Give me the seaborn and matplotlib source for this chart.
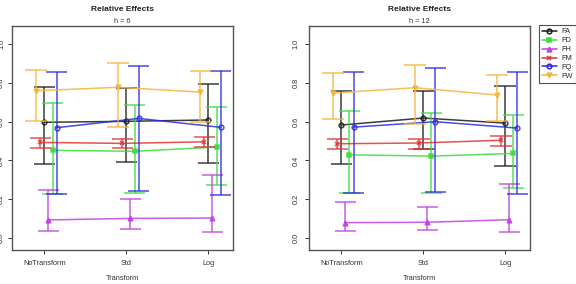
import numpy as np
import pandas as pd
import matplotlib
matplotlib.use("Agg")
import matplotlib.pyplot as plt
from matplotlib.lines import Line2D
import seaborn as sns

# ---- data ----
transforms = ["NoTransform", "Std", "Log"]
series = ["FA", "FD", "FH", "FM", "FQ", "FW"]

# h = 6
h6_mean = {"FA": [0.597, 0.602, 0.609], "FD": [0.452, 0.447, 0.469],
           "FH": [0.092, 0.100, 0.102], "FM": [0.493, 0.488, 0.496],
           "FQ": [0.569, 0.617, 0.571], "FW": [0.760, 0.778, 0.753]}
h6_lower = {"FA": [0.383, 0.393, 0.385], "FD": [0.228, 0.230, 0.274],
            "FH": [0.033, 0.047, 0.030], "FM": [0.465, 0.462, 0.469],
            "FQ": [0.224, 0.240, 0.219], "FW": [0.602, 0.574, 0.598]}
h6_upper = {"FA": [0.778, 0.774, 0.793], "FD": [0.696, 0.688, 0.674],
            "FH": [0.245, 0.202, 0.323], "FM": [0.514, 0.509, 0.519],
            "FQ": [0.858, 0.888, 0.863], "FW": [0.866, 0.902, 0.862]}

# h = 12
h12_mean = {"FA": [0.583, 0.619, 0.593], "FD": [0.429, 0.422, 0.436],
            "FH": [0.078, 0.080, 0.093], "FM": [0.486, 0.490, 0.504],
            "FQ": [0.572, 0.600, 0.567], "FW": [0.748, 0.776, 0.738]}
h12_lower = {"FA": [0.380, 0.459, 0.372], "FD": [0.233, 0.230, 0.255],
             "FH": [0.033, 0.038, 0.030], "FM": [0.460, 0.459, 0.476],
             "FQ": [0.231, 0.238, 0.228], "FW": [0.614, 0.586, 0.602]}
h12_upper = {"FA": [0.759, 0.759, 0.783], "FD": [0.654, 0.643, 0.634],
             "FH": [0.183, 0.160, 0.279], "FM": [0.512, 0.512, 0.527],
             "FQ": [0.857, 0.879, 0.855], "FW": [0.852, 0.891, 0.843]}

# ---- styling ----
colors = {"FA": "#1a1a1a", "FD": "#3ddc3d", "FH": "#c040e0", "FM": "#e23232",
          "FQ": "#2a2ae0", "FW": "#f5b43a"}
markers = {"FA": "o", "FD": "s", "FH": "^", "FM": "x", "FQ": "o", "FW": "v"}
hollow = {"FA": True, "FD": False, "FH": False, "FM": False, "FQ": True, "FW": False}
offsets = {"FA": 0.0, "FD": 0.10, "FH": 0.05, "FM": -0.05, "FQ": 0.15, "FW": -0.10}
cap = 0.13

sns.set_style("white")
plt.rcParams["font.family"] = ["Liberation Sans", "DejaVu Sans"]

fig = plt.figure(figsize=(5.76, 2.84), dpi=100)
ax1 = fig.add_axes([12 / 576, 1 - 250.3 / 284, 221 / 576, 224.3 / 284])
ax2 = fig.add_axes([309 / 576, 1 - 250.3 / 284, 220.7 / 576, 224.3 / 284])

def panel(ax, mean, lower, upper, sub, ypad):
    for s in series:
        x = np.arange(1, 4) + offsets[s]
        df = pd.DataFrame({"x": x, "y": mean[s]})
        c = colors[s]
        sns.lineplot(data=df, x="x", y="y", ax=ax, color=c, lw=1.1, alpha=0.85,
                     marker=markers[s], markersize=3.4,
                     markerfacecolor="none" if hollow[s] else c,
                     markeredgecolor=c, markeredgewidth=1.1, legend=False)
        ax.vlines(x, lower[s], upper[s], color=c, lw=1.1, alpha=0.85)
        ax.hlines(lower[s], x - cap, x + cap, color=c, lw=1.1, alpha=0.85)
        ax.hlines(upper[s], x - cap, x + cap, color=c, lw=1.1, alpha=0.85)

    ax.set_xlim(0.606, 3.30)
    ax.set_ylim(-0.065, 1.095)
    ax.set_xticks([1, 2, 3])
    ax.set_xticklabels(transforms)
    ax.set_yticks([0.0, 0.2, 0.4, 0.6, 0.8, 1.0])
    ax.set_yticklabels(["0.0", "0.2", "0.4", "0.6", "0.8", "1.0"],
                       rotation=90, va="center")
    ax.tick_params(axis="both", labelsize=5.3, length=3, width=0.7,
                   color="#333333", labelcolor="#333333", direction="out",
                   left=True, bottom=True, pad=4)
    ax.tick_params(axis="y", pad=ypad)
    for sp in ax.spines.values():
        sp.set_color("#555555")
        sp.set_linewidth(1.0)
    ax.set_xlabel("Transform", fontsize=5.3, color="#333333", labelpad=6)
    ax.set_ylabel("")
    ax.text(0.5, 1.006, sub, transform=ax.transAxes, ha="center", va="bottom",
            fontsize=5.3, color="#333333")
    ax.text(0.5, 1.058, "Relative Effects", transform=ax.transAxes,
            ha="center", va="bottom", fontsize=6, fontweight="bold",
            color="#222222")

panel(ax1, h6_mean, h6_lower, h6_upper, "h = 6", 2)
panel(ax2, h12_mean, h12_lower, h12_upper, "h = 12", 4)

handles = [Line2D([0], [0], color=colors[s], lw=1.1, marker=markers[s],
                  markersize=3.4, markeredgewidth=1.1,
                  markerfacecolor="none" if hollow[s] else colors[s],
                  markeredgecolor=colors[s]) for s in series]
leg = fig.legend(handles, series, loc="upper left",
                 bbox_to_anchor=(539 / 576, 1 - 25 / 284),
                 fontsize=5.3, frameon=True, fancybox=False,
                 handlelength=2.0, handletextpad=0.6, borderpad=0.4,
                 labelspacing=0.25, borderaxespad=0)
leg.get_frame().set_edgecolor("#222222")
leg.get_frame().set_linewidth(0.8)

fig.savefig("out.png", dpi=100)
